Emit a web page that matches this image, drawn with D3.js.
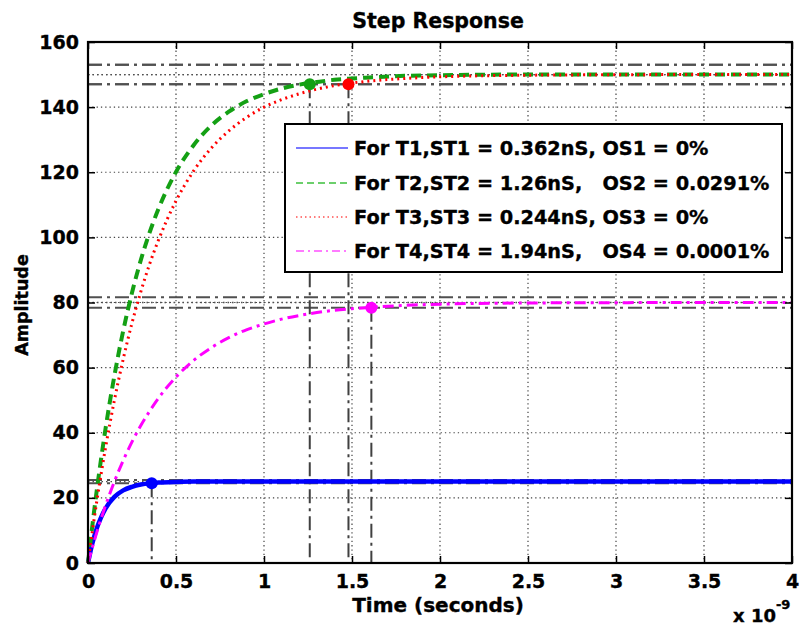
<!DOCTYPE html>
<html>
<head>
    <meta charset="utf-8">
    <script src="https://d3js.org/d3.v7.min.js"></script>
    <style>
        body { margin: 0; background: #fff; }
        text { font-family: "DejaVu Sans", sans-serif; font-weight: bold; fill: #000; stroke: #000; stroke-width: 0.35px; }
    </style>
</head>
<body>
    <svg id="plot"></svg>

    <script>
        // time in ns (axis is x 10^-9 s)
        var times = [0, 0.025, 0.05, 0.075, 0.1, 0.15, 0.2, 0.25, 0.3, 0.35, 0.4, 0.5, 0.6, 0.7,
                     0.8, 0.9, 1.0, 1.1, 1.2, 1.3, 1.4, 1.5, 1.6, 1.8, 2.0, 2.5, 3.0, 3.5, 4.0];
        var t1Values = [0, 6.1, 10.7, 14.1, 16.8, 20.3, 22.3, 23.4, 24.1, 24.5, 24.7, 24.9, 25, 25,
                        25, 25, 25, 25, 25, 25, 25, 25, 25, 25, 25, 25, 25, 25, 25];
        var t2Values = [0, 11.6, 22.4, 32.2, 41.4, 57.5, 71.3, 83.0, 93.0, 101.5, 108.7, 120.1, 128.3, 134.3,
                        138.6, 141.8, 144.0, 145.7, 146.9, 147.7, 148.4, 148.8, 149.1, 149.6, 149.8, 150, 150, 150, 150];
        var t3Values = [0, 9.8, 19.0, 27.5, 35.5, 50.0, 62.6, 73.7, 83.3, 91.8, 99.1, 111.2, 120.4, 127.4,
                        132.7, 136.8, 140.0, 142.3, 144.1, 145.5, 146.6, 147.4, 148.0, 148.8, 149.3, 149.8, 149.95, 150, 150];
        var t4Values = [0, 4.8, 9.4, 13.7, 17.7, 25.0, 31.5, 37.2, 42.2, 46.6, 50.6, 57.1, 62.2, 66.1,
                        69.2, 71.6, 73.4, 74.9, 76.0, 76.9, 77.6, 78.1, 78.5, 79.1, 79.5, 79.85, 79.95, 80, 80];

        var finalValues = [25, 150, 150, 80];
        var settleTimes = [0.362, 1.26, 1.48, 1.61];
        var settleValues = [24.5, 147, 147, 78.4];

        var legendLabels = [
            "For T1,ST1 = 0.362nS, OS1 = 0%",
            "For T2,ST2 = 1.26nS,   OS2 = 0.0291%",
            "For T3,ST3 = 0.244nS, OS3 = 0%",
            "For T4,ST4 = 1.94nS,   OS4 = 0.0001%"
        ];
        var xTicks = [0, 0.5, 1, 1.5, 2, 2.5, 3, 3.5, 4];
        var yTicks = [0, 20, 40, 60, 80, 100, 120, 140, 160];

        var SizeX = 800, SizeY = 626;
        var Box = { left: 88, right: 792, top: 42, bottom: 563 };

        var series = [
            { values: t1Values, color: "#0000ff", width: 4.5, dash: null,       legColor: "#4a4aff" },
            { values: t2Values, color: "#14a014", width: 4,   dash: "10,6",     legColor: "#3cc03c" },
            { values: t3Values, color: "#ff0000", width: 3,   dash: "2,4",      legColor: "#ff5050" },
            { values: t4Values, color: "#ff00ff", width: 3,   dash: "11,5,3,5", legColor: "#ff50ff" }
        ];

        var svg = d3.select("#plot")
            .attr("width", SizeX)
            .attr("height", SizeY);

        var x_scale = d3.scaleLinear().domain([0, 4]).range([Box.left, Box.right]);
        var y_scale = d3.scaleLinear().domain([0, 160]).range([Box.bottom, Box.top]);

        // grid
        var grid = svg.append("g");
        grid.selectAll(".vgrid")
            .data(xTicks.slice(1, -1))
            .enter().append("line")
                .attr("x1", function(d){ return x_scale(d); })
                .attr("x2", function(d){ return x_scale(d); })
                .attr("y1", Box.top).attr("y2", Box.bottom)
                .attr("stroke", "#444").attr("stroke-width", 1.2)
                .attr("stroke-dasharray", "1.3,3");
        grid.selectAll(".hgrid")
            .data(yTicks.slice(1, -1))
            .enter().append("line")
                .attr("y1", function(d){ return y_scale(d); })
                .attr("y2", function(d){ return y_scale(d); })
                .attr("x1", Box.left).attr("x2", Box.right)
                .attr("stroke", "#444").attr("stroke-width", 1.2)
                .attr("stroke-dasharray", "1.3,3");

        // settling bands (+/- 2%) and steady-state lines
        var chars = svg.append("g");
        finalValues.forEach(function(f){
            [f * 1.02, f * 0.98].forEach(function(v){
                chars.append("line")
                    .attr("x1", Box.left).attr("x2", Box.right)
                    .attr("y1", y_scale(v)).attr("y2", y_scale(v))
                    .attr("stroke", "#505050").attr("stroke-width", 2)
                    .attr("stroke-dasharray", "14,5,3,5");
            });
            chars.append("line")
                .attr("x1", Box.left).attr("x2", Box.right)
                .attr("y1", y_scale(f)).attr("y2", y_scale(f))
                .attr("stroke", "#505050").attr("stroke-width", 1.3)
                .attr("stroke-dasharray", "1.5,3");
        });
        settleTimes.forEach(function(t, i){
            chars.append("line")
                .attr("x1", x_scale(t)).attr("x2", x_scale(t))
                .attr("y1", y_scale(settleValues[i])).attr("y2", Box.bottom)
                .attr("stroke", "#404040").attr("stroke-width", 2)
                .attr("stroke-dasharray", "14,5,3,5");
        });

        // step responses
        var line = d3.line()
            .x(function(d, i){ return x_scale(times[i]); })
            .y(function(d){ return y_scale(d); })
            .curve(d3.curveMonotoneX);

        series.forEach(function(s){
            svg.append("path")
                .attr("d", line(s.values))
                .attr("fill", "none")
                .attr("stroke", s.color)
                .attr("stroke-width", s.width)
                .attr("stroke-dasharray", s.dash);
        });

        svg.selectAll(".mark")
            .data(settleTimes)
            .enter().append("circle")
                .attr("cx", function(d){ return x_scale(d); })
                .attr("cy", function(d, i){ return y_scale(settleValues[i]); })
                .attr("r", 6)
                .attr("fill", function(d, i){ return series[i].color; });

        // frame and axes with inward ticks
        var x_axis = d3.axisBottom(x_scale).tickValues(xTicks).tickSize(-7).tickPadding(12)
            .tickFormat(function(d){ return String(d); });
        var y_axis = d3.axisLeft(y_scale).tickValues(yTicks).tickSize(-7).tickPadding(9);

        var xg = svg.append("g").attr("transform", "translate(0," + Box.bottom + ")").call(x_axis);
        var yg = svg.append("g").attr("transform", "translate(" + Box.left + ",0)").call(y_axis);
        svg.append("g").attr("transform", "translate(0," + Box.top + ")")
            .call(d3.axisTop(x_scale).tickValues(xTicks).tickSize(-7).tickFormat(""));
        svg.append("g").attr("transform", "translate(" + Box.right + ",0)")
            .call(d3.axisRight(y_scale).tickValues(yTicks).tickSize(-7).tickFormat(""));

        svg.selectAll(".domain").remove();
        svg.selectAll(".tick line").attr("stroke", "#000").attr("stroke-width", 1.5);
        xg.selectAll("text").style("font-size", "19px").style("font-family", "DejaVu Sans").style("font-weight", "bold");
        yg.selectAll("text").style("font-size", "19px").style("font-family", "DejaVu Sans").style("font-weight", "bold");

        svg.append("rect")
            .attr("x", Box.left).attr("y", Box.top)
            .attr("width", Box.right - Box.left).attr("height", Box.bottom - Box.top)
            .attr("fill", "none").attr("stroke", "#000").attr("stroke-width", 2.2);

        // legend
        var leg = svg.append("g");
        leg.append("rect")
            .attr("x", 285).attr("y", 124).attr("width", 497).attr("height", 148)
            .attr("fill", "#fff").attr("stroke", "#000").attr("stroke-width", 2);
        var rowY = [148, 183, 217, 251];
        legendLabels.forEach(function(lab, i){
            leg.append("line")
                .attr("x1", 296).attr("x2", 348)
                .attr("y1", rowY[i]).attr("y2", rowY[i])
                .attr("stroke", series[i].legColor).attr("stroke-width", 1.3)
                .attr("stroke-dasharray", i === 1 ? "7,4" : i === 2 ? "1.5,3" : i === 3 ? "8,4,2,4" : null);
            leg.append("text")
                .attr("x", 354).attr("y", rowY[i]).attr("dy", "0.36em")
                .style("font-size", "19.3px").style("white-space", "pre")
                .text(lab);
        });

        // titles
        svg.append("text").attr("x", 438).attr("y", 28)
            .attr("text-anchor", "middle").style("font-size", "20.5px")
            .text("Step Response");
        svg.append("text").attr("x", 438).attr("y", 612)
            .attr("text-anchor", "middle").style("font-size", "20px")
            .text("Time (seconds)");
        svg.append("text")
            .attr("transform", "translate(28,305) rotate(-90)")
            .attr("text-anchor", "middle").style("font-size", "17.5px")
            .text("Amplitude");
        var mult = svg.append("text").attr("x", 733).attr("y", 622).style("font-size", "18px");
        mult.append("tspan").text("x 10");
        mult.append("tspan").attr("dy", -13).style("font-size", "13px").text("-9");
    </script>
</body>
</html>
